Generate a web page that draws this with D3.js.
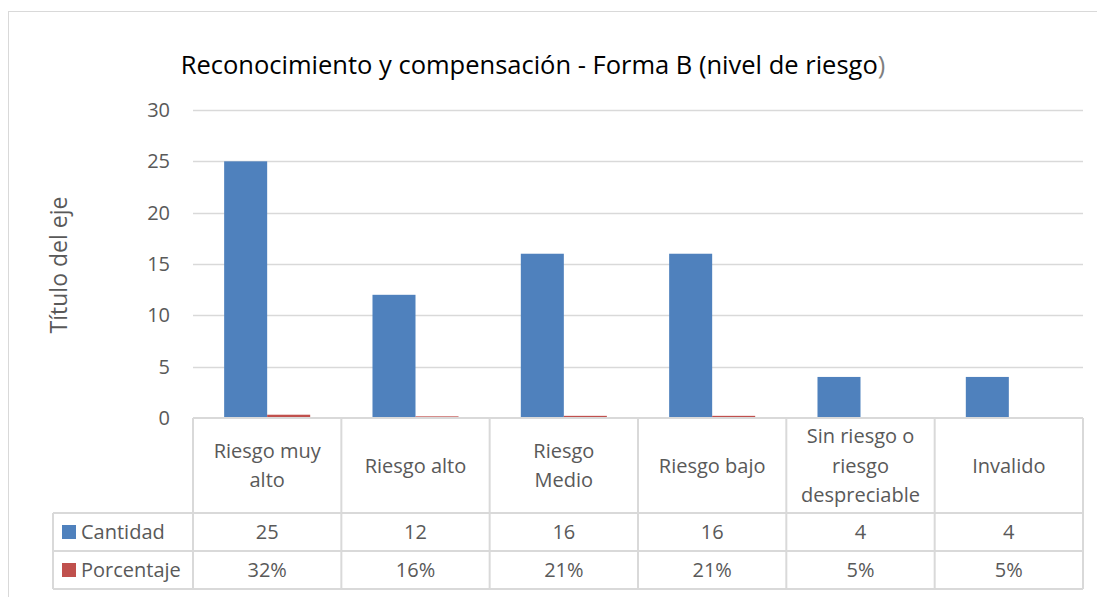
<!DOCTYPE html>
<html>
<head>
<meta charset="utf-8">
<script src="https://cdn.jsdelivr.net/npm/d3@7"></script>
<style>
  body { margin: 0; background: #fff; }
  text { font-family: "Open Sans", "Noto Sans", sans-serif; }
</style>
</head>
<body>
<div id="vis"></div>
<script>
var categories = [["Riesgo muy", "alto"], ["Riesgo alto"], ["Riesgo", "Medio"], ["Riesgo bajo"], ["Sin riesgo o", "riesgo", "despreciable"], ["Invalido"]];
var cantidad = [25, 12, 16, 16, 4, 4];
var porcentaje = [0.32, 0.16, 0.21, 0.21, 0.05, 0.05];
var porcentajeLabels = ["32%", "16%", "21%", "21%", "5%", "5%"];
var series = ["Cantidad", "Porcentaje"];
var yTicks = [0, 5, 10, 15, 20, 25, 30];

var opts = {
  width: 1097,
  height: 597,
  plot_left: 193,
  plot_right: 1083,
  plot_top: 110,
  plot_bottom: 418,
  table_left: 53,
  row_cat: 513,
  row_1: 551,
  row_2: 589,
  grid: "#D9D9D9",
  text: "#595959",
  font: 20,
  colors: ["#4F81BD", "#C0504D"]
};

var svg = d3.select("#vis")
  .append("svg")
  .attr("width", opts.width)
  .attr("height", opts.height);

// chart border
svg.append("rect")
  .attr("x", 8.5).attr("y", 11.5)
  .attr("width", 1200).attr("height", 700)
  .attr("fill", "#fff")
  .attr("stroke", opts.grid);

var x = d3.scaleBand()
  .domain(d3.range(categories.length))
  .range([opts.plot_left, opts.plot_right])
  .paddingInner(0.42).paddingOuter(0.21);
var x1 = d3.scaleBand().domain([0, 1]).range([0, x.bandwidth()]);
var cell = d3.scaleBand().domain(d3.range(categories.length)).range([opts.plot_left, opts.plot_right]);

var y = d3.scaleLinear().domain([0, 30]).range([opts.plot_bottom, opts.plot_top]);

// gridlines
svg.append("g")
  .selectAll("line")
  .data(yTicks.slice(1))
  .join("line")
  .attr("x1", opts.plot_left).attr("x2", opts.plot_right)
  .attr("y1", d => Math.round(y(d)) + 0.5).attr("y2", d => Math.round(y(d)) + 0.5)
  .attr("stroke", opts.grid).attr("stroke-width", 1.3);

// y tick labels
svg.append("g")
  .selectAll("text")
  .data(yTicks)
  .join("text")
  .attr("x", 170).attr("y", d => y(d))
  .attr("dy", "0.35em")
  .attr("text-anchor", "end")
  .attr("font-size", opts.font)
  .attr("fill", opts.text)
  .text(d => d);

// axis title
svg.append("text")
  .attr("transform", "translate(67,265) rotate(-90)")
  .attr("text-anchor", "middle")
  .attr("font-size", 23)
  .attr("fill", opts.text)
  .text("Título del eje");

// title
var title = svg.append("text")
  .attr("x", 533).attr("y", 74)
  .attr("text-anchor", "middle")
  .attr("font-size", 25.5)
  .attr("fill", "#000");
title.append("tspan").text("Reconocimiento y compensación - Forma B (nivel de riesgo");
title.append("tspan").attr("fill", "#7f7f7f").text(")");

// bars
var data = [cantidad, porcentaje];
data.forEach(function(vals, s) {
  svg.append("g")
    .selectAll("rect")
    .data(vals)
    .join("rect")
    .attr("x", (d, i) => x(i) + x1(s))
    .attr("width", x1.bandwidth())
    .attr("y", d => y(d))
    .attr("height", d => y(0) - y(d))
    .attr("fill", opts.colors[s]);
});

// data table
var tbl = svg.append("g").attr("stroke", opts.grid).attr("stroke-width", 2).attr("fill", "none");
tbl.append("line").attr("x1", opts.plot_left).attr("x2", opts.plot_right).attr("y1", opts.plot_bottom).attr("y2", opts.plot_bottom);
[opts.row_cat, opts.row_1, opts.row_2].forEach(function(yy) {
  tbl.append("line").attr("x1", opts.table_left).attr("x2", opts.plot_right).attr("y1", yy).attr("y2", yy);
});
tbl.append("line").attr("x1", opts.table_left).attr("x2", opts.table_left).attr("y1", opts.row_cat).attr("y2", opts.row_2);
d3.range(categories.length + 1).forEach(function(i) {
  var xx = i < categories.length ? cell(i) : opts.plot_right;
  tbl.append("line").attr("x1", xx).attr("x2", xx).attr("y1", opts.plot_bottom).attr("y2", opts.row_2);
});

// category labels
svg.append("g")
  .selectAll("text")
  .data(categories)
  .join("text")
  .attr("text-anchor", "middle")
  .attr("font-size", opts.font)
  .attr("fill", opts.text)
  .each(function(lines, i) {
    var cy = (opts.plot_bottom + opts.row_cat) / 2;
    var lh = 29.5;
    var y0 = cy - (lines.length - 1) * lh / 2;
    d3.select(this).selectAll("tspan")
      .data(lines)
      .join("tspan")
      .attr("x", cell(i) + cell.bandwidth() / 2)
      .attr("y", (d, k) => y0 + k * lh)
      .attr("dy", "0.35em")
      .text(d => d);
  });

// value rows
var rows = [cantidad.map(String), porcentajeLabels];
var rowMid = [(opts.row_cat + opts.row_1) / 2, (opts.row_1 + opts.row_2) / 2];
rows.forEach(function(vals, r) {
  svg.append("g")
    .selectAll("text")
    .data(vals)
    .join("text")
    .attr("x", (d, i) => cell(i) + cell.bandwidth() / 2)
    .attr("y", rowMid[r])
    .attr("dy", "0.35em")
    .attr("text-anchor", "middle")
    .attr("font-size", opts.font)
    .attr("fill", opts.text)
    .text(d => d);
  svg.append("rect")
    .attr("x", 62).attr("y", rowMid[r] - 7)
    .attr("width", 14).attr("height", 14)
    .attr("fill", opts.colors[r]);
  svg.append("text")
    .attr("x", 81).attr("y", rowMid[r])
    .attr("dy", "0.35em")
    .attr("font-size", opts.font)
    .attr("fill", opts.text)
    .text(series[r]);
});
</script>
</body>
</html>
